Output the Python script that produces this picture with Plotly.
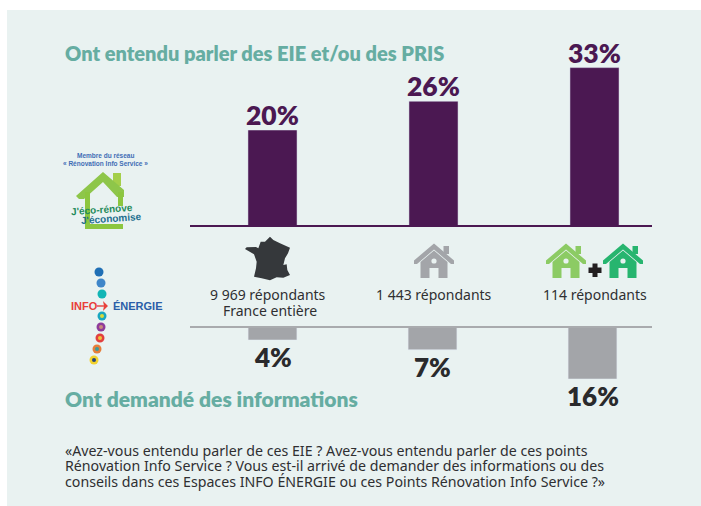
import plotly.graph_objects as go

W, H = 701, 506
FONT = "Lato"

categories = ["France entière", "Maison", "Maison + réseau"]
entendu = [20, 26, 33]
demande = [4, 7, 16]
labels_entendu = ["20%", "26%", "33%"]
labels_demande = ["4%", "7%", "16%"]
repondants = ["9 969 répondants", "1 443 répondants", "114 répondants"]
sous_label = "France entière"
title_top = "Ont entendu parler des EIE et/ou des PRIS"
title_bottom = "Ont demandé des informations"
footer = ["«Avez-vous entendu parler de ces EIE ? Avez-vous entendu parler de ces points",
          "Rénovation Info Service ? Vous est-il arrivé de demander des informations ou des",
          "conseils dans ces Espaces INFO ÉNERGIE ou ces Points Rénovation Info Service ?»"]

PURPLE, GREY, DARK, PANEL = "#4b1852", "#a3a5a9", "#2a2a2c", "#e9f2f1"
TEAL = "#66ada2"
BODY = "Noto Sans"


def px(x):
    return x / W


def py(y):
    return 1 - y / H


def path(points, color, line=None):
    d = "M " + " L ".join(f"{px(a):.5f},{py(b):.5f}" for a, b in points) + " Z"
    return dict(type="path", xref="paper", yref="paper", path=d, fillcolor=color,
                line=dict(width=0 if line is None else 1, color=line or color), layer="above")


def rect(x0, y0, x1, y1, color, layer="above"):
    return dict(type="rect", xref="paper", yref="paper", x0=px(x0), x1=px(x1), y0=py(y0), y1=py(y1),
                fillcolor=color, line=dict(width=0), layer=layer)


def circle(cx, cy, r, color):
    return dict(type="circle", xref="paper", yref="paper", x0=px(cx - r), x1=px(cx + r),
                y0=py(cy - r), y1=py(cy + r), fillcolor=color, line=dict(width=0), layer="above")


def house(cx, color):
    a = 243.5
    return [
        rect(cx + 9.5, 246, cx + 15, 254, color),
        path([(cx - 20, a + 17), (cx, a), (cx + 20, a + 17), (cx + 20, a + 20.5), (cx + 17, a + 20.5),
              (cx, a + 6), (cx - 17, a + 20.5), (cx - 20, a + 20.5)], color),
        path([(cx - 13.5, 262), (cx, 250.5), (cx + 13.5, 262), (cx + 13.5, 278), (cx + 4.5, 278),
              (cx + 4.5, 268), (cx - 4.5, 268), (cx - 4.5, 278), (cx - 13.5, 278)], color),
        circle(cx, 261, 2.6, PANEL),
    ]


france_zoom = [(120, 35), (130, 45), (150, 55), (180, 68), (174, 85), (165, 100), (160, 120), (170, 118),
               (172, 135), (180, 150), (160, 158), (140, 157), (120, 166), (95, 160), (72, 155), (78, 130),
               (80, 110), (72, 88), (45, 72), (50, 67), (78, 66), (85, 70), (92, 50), (105, 50)]
france = [(x / 3 + 230, y / 3 + 225) for x, y in france_zoom]

dots = [(99, 272, "#1f6fb5", None), (101, 283, "#3f86c9", None), (102, 294, "#12b5b5", None),
        (102, 316, "#19a7c0", "#d8d83a"), (101, 327, "#8e3b9b", "#c98a7a"), (100, 338, "#e2403f", "#f0c23a"),
        (97, 349, "#e67e3a", "#3d9a9a"), (94, 360, "#f2d22e", "#27457a")]

shapes = [rect(7, 10, 701, 506, PANEL, "below")]
shapes += [dict(type="line", xref="paper", yref="paper", x0=px(190), x1=px(652), y0=py(226), y1=py(226),
                line=dict(color=PURPLE, width=2), layer="above"),
           dict(type="line", xref="paper", yref="paper", x0=px(190), x1=px(652), y0=py(327), y1=py(327),
                line=dict(color="#a9abae", width=2), layer="above")]
shapes += house(434, "#a3a5a9") + house(566, "#8ccb64") + house(623, "#27b56f")
shapes += [rect(588.5, 267.5, 601.5, 273, "#231f20"), rect(592.5, 263.5, 597.5, 277, "#231f20")]
shapes.append(path(france, "#35383b"))

# Logo "J'éco-rénove"
g = "#8cc63f"
shapes += [
    rect(113, 173, 121, 186, "#a4cf4a"),
    path([(76, 196), (103, 172), (124, 190), (124, 197), (117, 197), (103, 182), (84, 199), (79, 199)], "#8ec64a"),
    rect(85, 192, 90, 227, g), rect(118, 192, 123, 206, g), rect(85, 224, 123, 229, g),
]
# Logo INFO ÉNERGIE
for cx, cy, c, inner in dots:
    shapes.append(circle(cx, cy, 4.5, c))
    if inner:
        shapes.append(circle(cx, cy, 2, inner))
shapes += [dict(type="line", xref="paper", yref="paper", x0=px(97), x1=px(107), y0=py(306), y1=py(306),
                line=dict(color="#e8403a", width=1.4), layer="above"),
           path([(103, 301), (108, 306), (103, 311), (104, 306)], "#e8403a")]

fig = go.Figure()
fig.add_bar(x=categories, y=entendu, xaxis="x", yaxis="y", marker_color=PURPLE, hoverinfo="skip")
fig.add_bar(x=categories, y=demande, xaxis="x2", yaxis="y2", marker_color=GREY, hoverinfo="skip")

annotations = []


def note(text, x, y, size, color, bold=False, anchor="left", xref="paper", family=BODY, angle=0, xshift=0):
    annotations.append(dict(text=text, x=x if xref != "paper" else px(x), y=py(y), xref=xref, yref="paper",
                            xanchor=anchor, yanchor="middle", showarrow=False, align=anchor,
                            textangle=angle, xshift=xshift,
                            font=dict(family=family, size=size, color=color, weight=bold if bold else "normal")))


note(title_top, 63, 53, 20, TEAL, 800, family=FONT)
note(title_bottom, 63, 398, 21, TEAL, 800, family=FONT)
for line, y in zip(footer, [450, 465.5, 481]):
    note(line, 63, y, 14.2, "#2f2f31")
for cat, lab, sh in zip(categories, repondants, [-5, 0, 0]):
    note(lab, cat, 294, 14, "#2f2f31", anchor="center", xref="x", xshift=sh)
note(sous_label, categories[0], 310, 14, "#2f2f31", anchor="center", xref="x", xshift=-2.5)
note("Membre du réseau", 105.5, 155, 6.5, "#3f6db5", 700, "center", family="Liberation Sans")
note("« Rénovation Info Service »", 105.5, 163, 6.5, "#3f6db5", 700, "center", family="Liberation Sans")
note("J'éco-rénove", 102, 209, 10, "#1e8a5a", 700, "center", family="Liberation Sans", angle=-4)
note("J'économise", 111, 219, 10, "#1d6f8f", 700, "center", family="Liberation Sans", angle=-4)
note("INFO", 99.5, 306, 11, "#e8403a", 700, "right", family="Liberation Sans")
note("ÉNERGIE", 111, 306, 11, "#2a5ea8", 700, "left", family="Liberation Sans")

for cat, val, lab in zip(categories, entendu, labels_entendu):
    annotations.append(dict(text=lab, x=cat, y=val, xref="x", yref="y", yshift=15, showarrow=False,
                            yanchor="middle", xanchor="center",
                            font=dict(family=FONT, size=26.5, color=PURPLE, weight=800)))
for cat, val, lab in zip(categories, demande, labels_demande):
    annotations.append(dict(text=lab, x=cat, y=val, xref="x2", yref="y2", yshift=-17, showarrow=False,
                            yanchor="middle", xanchor="center",
                            font=dict(family=FONT, size=26, color=DARK, weight=800)))

fig.update_layout(
    width=W, height=H, margin=dict(l=0, r=0, t=0, b=0), autosize=False,
    paper_bgcolor="white", plot_bgcolor="rgba(0,0,0,0)", showlegend=False, bargap=0.695,
    shapes=shapes, annotations=annotations,
    xaxis=dict(domain=[px(192), px(675)], anchor="y", range=[-0.5, 2.5], visible=False, type="category"),
    xaxis2=dict(domain=[px(192.5), px(672.5)], anchor="y2", range=[-0.5, 2.5], visible=False, type="category"),
    yaxis=dict(domain=[py(226), py(10)], range=[0, 216 / 4.8], visible=False),
    yaxis2=dict(domain=[py(420), py(327)], range=[93 / 3.25, 0], visible=False),
)
fig.write_html("out.html", config=dict(displayModeBar=False),
               post_script="document.body.style.margin='0';document.body.style.overflow='hidden';")
